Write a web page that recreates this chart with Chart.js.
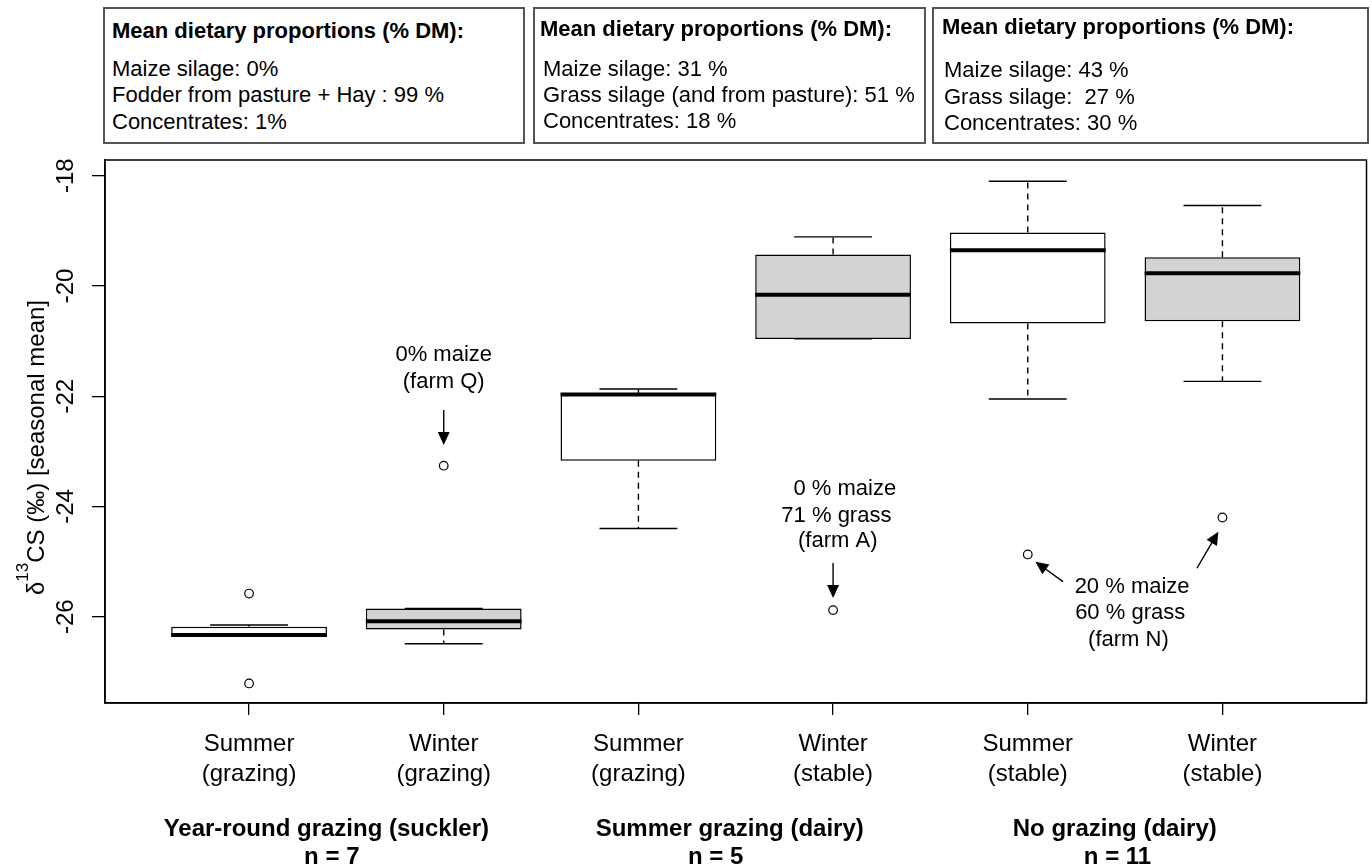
<!DOCTYPE html>
<html><head><meta charset="utf-8">
<script src="https://cdn.jsdelivr.net/npm/chart.js@4.4.1/dist/chart.umd.min.js"></script>
<style>
html,body{margin:0;padding:0;background:#fff;}
#wrap{position:relative;width:1372px;height:865px;overflow:hidden;}
#c{position:absolute;left:0;top:0;}
.box{position:absolute;border:2px solid #555;box-sizing:border-box;background:#fff;font-family:"Liberation Sans",Arial,sans-serif;font-size:22px;color:#000;}
.box div{position:absolute;white-space:nowrap;line-height:26px;}
.box .t{font-weight:bold;}
</style></head><body>
<div id="wrap">
<canvas id="c" width="1372" height="865"></canvas>
<div class="box" style="left:103px;top:7px;width:422px;height:137px">
  <div class="t" style="left:7px;top:9px">Mean dietary proportions (% DM):</div>
  <div style="left:7px;top:47px">Maize silage: 0%</div>
  <div style="left:7px;top:73px">Fodder from pasture + Hay : 99 %</div>
  <div style="left:7px;top:100px">Concentrates: 1%</div>
</div>
<div class="box" style="left:533px;top:7px;width:393px;height:137px">
  <div class="t" style="left:5px;top:7px">Mean dietary proportions (% DM):</div>
  <div style="left:8px;top:47px">Maize silage: 31 %</div>
  <div style="left:8px;top:73px">Grass silage (and from pasture): 51 %</div>
  <div style="left:8px;top:99px">Concentrates: 18 %</div>
</div>
<div class="box" style="left:932px;top:7px;width:437px;height:137px">
  <div class="t" style="left:8px;top:5px">Mean dietary proportions (% DM):</div>
  <div style="left:10px;top:48px">Maize silage: 43 %</div>
  <div style="left:10px;top:75px">Grass silage:&nbsp; 27 %</div>
  <div style="left:10px;top:101px">Concentrates: 30 %</div>
</div>
</div>
<script>
// ---------- data ----------
const categories = [['Summer','(grazing)'],['Winter','(grazing)'],['Summer','(grazing)'],['Winter','(stable)'],['Summer','(stable)'],['Winter','(stable)']];
const lowerWhisker = [-26.35, -26.49, -24.40, -20.96, -22.05, -21.73];
const q1           = [-26.35, -26.23, -23.17, -20.96, -20.68, -20.64];
const median       = [-26.33, -26.08, -21.97, -20.16, -19.35, -19.77];
const q3           = [-26.18, -25.85, -21.95, -19.43, -19.03, -19.48];
const upperWhisker = [-26.15, -25.85, -21.87, -19.11, -18.10, -18.54];
const outlierBox   = [1, 1, 2, 4, 5, 6];
const outlierValue = [-25.58, -27.21, -23.26, -25.88, -24.87, -24.20];
const yTicks = [-26, -24, -22, -20, -18];
const groupNames = ['Year-round grazing (suckler)', 'Summer grazing (dairy)', 'No grazing (dairy)'];
const groupN = ['n = 7', 'n = 5', 'n = 11'];

// ---------- styles / layout ----------
const boxFills = ['#ffffff', '#d3d3d3', '#ffffff', '#d3d3d3', '#ffffff', '#d3d3d3'];
const FONT = '"Liberation Sans", Arial, sans-serif';
const groupNamePos = [1.397, 3.469, 5.447];
const groupNPos = [1.425, 3.397, 5.461];
// annotations in data coordinates
const annoTexts = [
  {x: 2, y: -21.25, t: '0% maize'}, {x: 2, y: -21.74, t: '(farm Q)'},
  {x: 4.06, y: -23.68, t: '0 % maize'}, {x: 4.017, y: -24.17, t: '71 % grass'}, {x: 4.024, y: -24.63, t: '(farm A)'},
  {x: 5.536, y: -25.455, t: '20 % maize'}, {x: 5.526, y: -25.93, t: '60 % grass'}, {x: 5.517, y: -26.42, t: '(farm N)'}
];
const annoArrows = [
  {x0: 2, y0: -22.25, x1: 2, y1: -22.885},
  {x0: 4, y0: -25.025, x1: 4, y1: -25.66},
  {x0: 5.181, y0: -25.364, x1: 5.039, y1: -25.001},
  {x0: 5.869, y0: -25.121, x1: 5.979, y1: -24.457}
];

const boxPlugin = {
  id: 'boxplotExtras',
  afterDatasetsDraw(chart) {
    const ctx = chart.ctx, xs = chart.scales.x, ys = chart.scales.y, ca = chart.chartArea;
    const meta = chart.getDatasetMeta(0);
    ctx.save();
    ctx.strokeStyle = '#000';
    categories.forEach((c, i) => {
      const bar = meta.data[i];
      const cx = bar.x, w = bar.width;
      const yq1 = ys.getPixelForValue(q1[i]), yq3 = ys.getPixelForValue(q3[i]);
      const ylw = ys.getPixelForValue(lowerWhisker[i]), yuw = ys.getPixelForValue(upperWhisker[i]);
      const ym = ys.getPixelForValue(median[i]);
      ctx.lineWidth = 1.4;
      ctx.setLineDash([6, 5]);
      if (yq3 - yuw > 1) { ctx.beginPath(); ctx.moveTo(cx, yq3); ctx.lineTo(cx, yuw); ctx.stroke(); }
      if (ylw - yq1 > 1) { ctx.beginPath(); ctx.moveTo(cx, yq1); ctx.lineTo(cx, ylw); ctx.stroke(); }
      ctx.setLineDash([]);
      ctx.beginPath(); ctx.moveTo(cx - w / 4, yuw); ctx.lineTo(cx + w / 4, yuw); ctx.stroke();
      ctx.beginPath(); ctx.moveTo(cx - w / 4, ylw); ctx.lineTo(cx + w / 4, ylw); ctx.stroke();
      ctx.lineWidth = 4;
      ctx.beginPath(); ctx.moveTo(cx - w / 2, ym); ctx.lineTo(cx + w / 2, ym); ctx.stroke();
    });
    // frame
    ctx.lineWidth = 1.5;
    ctx.strokeRect(ca.left, ca.top, ca.right - ca.left, ca.bottom - ca.top);
    // annotations
    ctx.fillStyle = '#000';
    ctx.font = '22px ' + FONT;
    ctx.textAlign = 'center';
    ctx.textBaseline = 'middle';
    annoTexts.forEach(a => ctx.fillText(a.t, xs.getPixelForValue(a.x), ys.getPixelForValue(a.y)));
    annoArrows.forEach(a => {
      const x0 = xs.getPixelForValue(a.x0), y0 = ys.getPixelForValue(a.y0);
      const x1 = xs.getPixelForValue(a.x1), y1 = ys.getPixelForValue(a.y1);
      const ang = Math.atan2(y1 - y0, x1 - x0);
      const L = 13, H = 6;
      ctx.lineWidth = 1.4;
      ctx.beginPath(); ctx.moveTo(x0, y0);
      ctx.lineTo(x1 - Math.cos(ang) * L * 0.8, y1 - Math.sin(ang) * L * 0.8); ctx.stroke();
      ctx.beginPath();
      ctx.moveTo(x1, y1);
      ctx.lineTo(x1 - Math.cos(ang) * L - Math.sin(ang) * H, y1 - Math.sin(ang) * L + Math.cos(ang) * H);
      ctx.lineTo(x1 - Math.cos(ang) * L + Math.sin(ang) * H, y1 - Math.sin(ang) * L - Math.cos(ang) * H);
      ctx.closePath(); ctx.fill();
    });
    ctx.restore();
  },
  afterDraw(chart) {
    const ctx = chart.ctx, xs = chart.scales.x, ys = chart.scales.y, ca = chart.chartArea;
    ctx.save();
    ctx.fillStyle = '#000';
    // y tick labels (rotated, like R)
    ctx.font = '24px ' + FONT;
    ctx.textAlign = 'center';
    ctx.textBaseline = 'alphabetic';
    ys.ticks.forEach(t => {
      const py = ys.getPixelForValue(t.value);
      ctx.save(); ctx.translate(ca.left - 32, py); ctx.rotate(-Math.PI / 2);
      ctx.fillText(String(t.value), 0, 0); ctx.restore();
    });
    // y axis title with superscript
    const cy = (ca.top + ca.bottom) / 2 + 16;
    ctx.save(); ctx.translate(ca.left - 61, cy); ctx.rotate(-Math.PI / 2);
    ctx.textAlign = 'left';
    const mainF = '24px ' + FONT, supF = '17px ' + FONT;
    ctx.font = mainF; const w1 = ctx.measureText('δ').width;
    ctx.font = supF; const w2 = ctx.measureText('13').width;
    ctx.font = mainF; const w3 = ctx.measureText('CS (‰) [seasonal mean]').width;
    let x = -(w1 + w2 + w3) / 2;
    ctx.font = mainF; ctx.fillText('δ', x, 0); x += w1;
    ctx.font = supF; ctx.fillText('13', x, -16); x += w2;
    ctx.font = mainF; ctx.fillText('CS (‰) [seasonal mean]', x, 0);
    ctx.restore();
    // group labels
    ctx.font = 'bold 24px ' + FONT;
    ctx.textAlign = 'center';
    ctx.textBaseline = 'middle';
    groupNames.forEach((g, i) => ctx.fillText(g, xs.getPixelForValue(groupNamePos[i]), ca.bottom + 126));
    groupN.forEach((g, i) => ctx.fillText(g, xs.getPixelForValue(groupNPos[i]), ca.bottom + 154));
    ctx.restore();
  }
};

Chart.defaults.font.family = FONT;
Chart.defaults.color = '#000';

new Chart(document.getElementById('c'), {
  type: 'bar',
  data: {
    datasets: [
      {
        type: 'bar',
        data: categories.map((c, i) => ({x: i + 1, y: [q1[i], q3[i]]})),
        backgroundColor: boxFills,
        borderColor: '#000',
        borderWidth: 1.5,
        borderSkipped: false,
        categoryPercentage: 0.8,
        barPercentage: 1.0,
        order: 2
      },
      {
        type: 'scatter',
        data: outlierBox.map((b, i) => ({x: b, y: outlierValue[i]})),
        pointRadius: 4.3,
        pointBorderWidth: 1.2,
        borderColor: '#000',
        backgroundColor: 'rgba(0,0,0,0)',
        showLine: false,
        order: 1
      }
    ]
  },
  options: {
    responsive: false,
    animation: false,
    devicePixelRatio: 1,
    layout: {padding: {top: 160, right: 5, left: 0, bottom: 0}},
    plugins: {legend: {display: false}, tooltip: {enabled: false}},
    scales: {
      x: {
        type: 'linear',
        offset: false,
        min: 0.26, max: 6.74,
        afterBuildTicks: s => { s.ticks = categories.map((c, i) => ({value: i + 1})); },
        afterFit: s => { s.height = 162; },
        ticks: {
          callback: v => categories[Math.round(v) - 1],
          font: {size: 24, lineHeight: 1.25},
          color: '#000',
          padding: 14,
          maxRotation: 0, minRotation: 0,
          autoSkip: false
        },
        grid: {offset: false, drawOnChartArea: false, drawTicks: true, tickLength: 12, color: '#000', lineWidth: 1.3},
        border: {display: true, color: '#000', width: 1.5}
      },
      y: {
        type: 'linear',
        min: -27.565, max: -17.715,
        afterBuildTicks: s => { s.ticks = yTicks.map(v => ({value: v})); },
        afterFit: s => { s.width = 105; },
        ticks: {display: false},
        grid: {drawOnChartArea: false, drawTicks: true, tickLength: 13, color: '#000', lineWidth: 1.3},
        border: {display: true, color: '#000', width: 1.5}
      }
    }
  },
  plugins: [boxPlugin]
});
</script>
</body></html>
